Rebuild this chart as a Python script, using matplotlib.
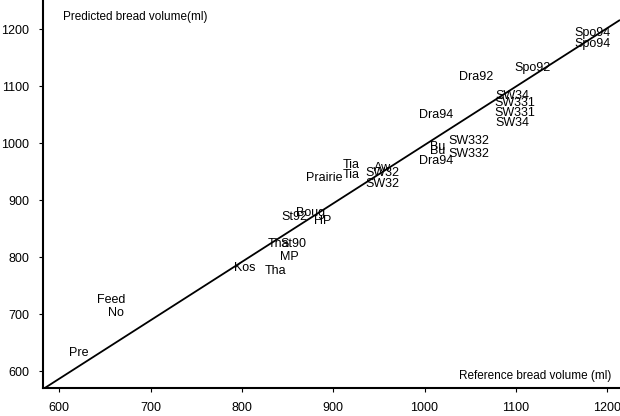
import matplotlib
matplotlib.use("Agg")
import matplotlib.pyplot as plt

plt.rcParams['font.family'] = ['Liberation Sans', 'DejaVu Sans']

# cultivar labels with (reference, predicted) bread volume, ml
labels = ['Pre', 'Feed', 'No', 'Kos', 'Tha', 'MP', 'Tha', 'St90', 'St92', 'Boug',
          'HP', 'Prairie', 'Tia', 'Tia', 'Aw', 'SW32', 'SW32', 'Dra94', 'Bu', 'Bu',
          'SW332', 'SW332', 'Dra94', 'Dra92', 'Spo92', 'SW34', 'SW331', 'SW331',
          'SW34', 'Spo94', 'Spo94']
ref_vol = [621, 657, 662, 803, 837, 852, 840, 856, 858, 875,
           889, 890, 920, 920, 954, 954, 954, 1013, 1014, 1014,
           1048, 1048, 1013, 1056, 1118, 1096, 1099, 1099,
           1096, 1184, 1184]
pred_vol = [632, 725, 702, 781, 775, 800, 823, 823, 870, 877,
            863, 939, 961, 944, 956, 947, 928, 968, 993, 986,
            1003, 981, 1049, 1116, 1131, 1082, 1070, 1053,
            1035, 1193, 1174]

# fitted line endpoints
line_ref = [582, 1214]
line_pred = [568, 1216]

xticks = [600, 700, 800, 900, 1000, 1100, 1200]
yticks = [600, 700, 800, 900, 1000, 1100, 1200]

fig = plt.figure(figsize=(6.2, 4.16), dpi=100)
ax = fig.add_axes([0.069, 0.067, 0.931, 0.933])

ax.plot(line_ref, line_pred, color='black', lw=1.3, solid_capstyle='butt')
for lab, x, y in zip(labels, ref_vol, pred_vol):
    ax.text(x, y, lab, ha='center', va='center', fontsize=9)

ax.set_xlim(582, 1214)
ax.set_ylim(570, 1251)
ax.set_xticks(xticks)
ax.set_yticks(yticks)
ax.tick_params(direction='out', length=3, width=0.8, labelsize=9, pad=7)

for side in ['top', 'right']:
    ax.spines[side].set_visible(False)
for side in ['left', 'bottom']:
    ax.spines[side].set_linewidth(1.5)

ax.text(0.035, 0.955, 'Predicted bread volume(ml)', transform=ax.transAxes,
        ha='left', va='center', fontsize=8.5)
ax.text(0.985, 0.03, 'Reference bread volume (ml)', transform=ax.transAxes,
        ha='right', va='center', fontsize=8.5)

fig.savefig('out.png', dpi=100)
